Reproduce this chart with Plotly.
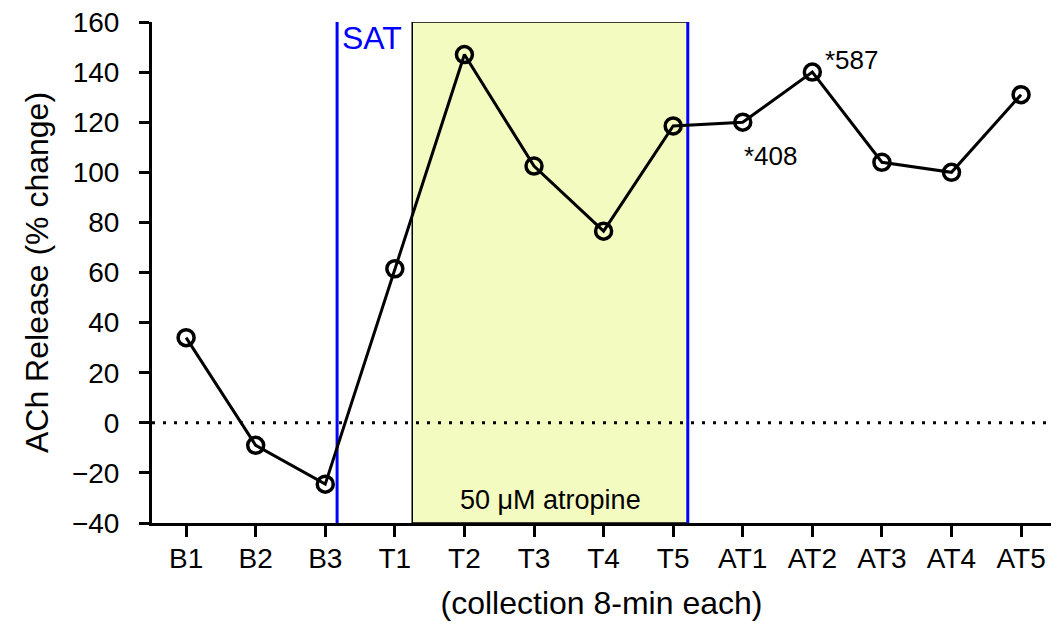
import plotly.graph_objects as go

categories = ["B1", "B2", "B3", "T1", "T2", "T3", "T4", "T5", "AT1", "AT2", "AT3", "AT4", "AT5"]
ach_release = [34, -9, -24.5, 61.5, 147, 102.5, 76.5, 118.5, 120, 140, 104, 100, 131]
y_ticks = [-40, -20, 0, 20, 40, 60, 80, 100, 120, 140, 160]

FONT = "Liberation Sans, Arial, sans-serif"
xi = list(range(len(categories)))
X_RANGE = [-0.49, 12.43]

fig = go.Figure()
fig.add_trace(go.Scatter(
    x=xi, y=ach_release, mode="lines+markers",
    line=dict(color="black", width=3),
    marker=dict(symbol="circle-open", size=16, color="black", line=dict(width=3.5)),
    showlegend=False,
))

shapes = [
    dict(type="rect", xref="x", yref="y", x0=3.25, x1=7.21, y0=-40, y1=160,
         fillcolor="#f4fbc0", line=dict(color="black", width=1.5), layer="below"),
    dict(type="line", xref="x", yref="y", x0=X_RANGE[0], x1=X_RANGE[1], y0=0, y1=0,
         line=dict(color="black", width=3, dash="3px,8px"), layer="below"),
    dict(type="line", xref="x", yref="y", x0=2.17, x1=2.17, y0=-40, y1=160,
         line=dict(color="#0000ff", width=3), layer="below"),
    dict(type="line", xref="x", yref="y", x0=7.21, x1=7.21, y0=-40, y1=160,
         line=dict(color="#0000ff", width=3), layer="below"),
]

annotations = [
    dict(x=2.17, y=160, xref="x", yref="y", text="SAT", showarrow=False,
         xanchor="left", yanchor="top", xshift=3, yshift=4,
         font=dict(family=FONT, size=32, color="#0000ff")),
    dict(x=5.23, y=-40, xref="x", yref="y", text="50 μM atropine", showarrow=False,
         xanchor="center", yanchor="bottom", yshift=6,
         font=dict(family=FONT, size=27, color="black")),
    dict(x=8, y=120, xref="x", yref="y", text="*408", showarrow=False,
         xanchor="left", yanchor="top", xshift=-1, yshift=-17,
         font=dict(family=FONT, size=26, color="black")),
    dict(x=9, y=140, xref="x", yref="y", text="*587", showarrow=False,
         xanchor="left", yanchor="bottom", xshift=11, yshift=-5,
         font=dict(family=FONT, size=26, color="black")),
]

fig.update_layout(
    width=1051, height=626,
    margin=dict(l=152, r=0, t=22, b=103),
    paper_bgcolor="white", plot_bgcolor="white",
    font=dict(family=FONT, size=28, color="black"),
    shapes=shapes, annotations=annotations,
    xaxis=dict(
        range=X_RANGE, tickmode="array", tickvals=xi, ticktext=categories,
        showline=True, linecolor="black", linewidth=3,
        ticks="outside", ticklen=11, tickwidth=3, tickcolor="black",
        showgrid=False, zeroline=False, ticklabelstandoff=-3,
        title=dict(text="(collection 8-min each)", font=dict(size=32), standoff=20),
        tickfont=dict(size=28),
    ),
    yaxis=dict(
        range=[-40, 160], tickmode="array", tickvals=y_ticks,
        showline=True, linecolor="black", linewidth=3,
        ticks="outside", ticklen=10, tickwidth=3, tickcolor="black",
        showgrid=False, zeroline=False, ticklabelstandoff=14,
        title=dict(text="ACh Release (% change)", font=dict(size=32), standoff=14),
        tickfont=dict(size=28),
    ),
)

fig.write_html("out.html")
